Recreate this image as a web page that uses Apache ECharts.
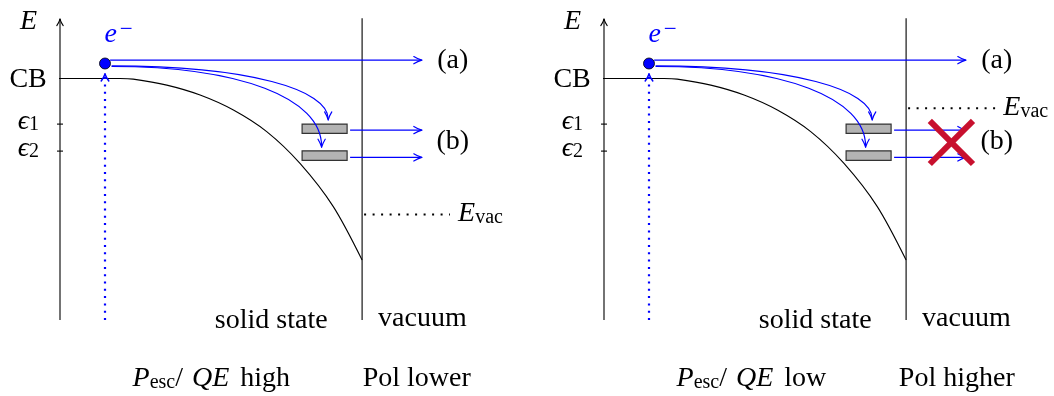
<!DOCTYPE html>
<html>
<head>
<meta charset="utf-8">
<title>Band bending, trap states and electron escape</title>
<script src="https://cdn.jsdelivr.net/npm/echarts@6/dist/echarts.min.js"></script>
<style>
html,body{margin:0;padding:0;background:#fff;}
#chart{width:1054px;height:396px;}
</style>
</head>
<body>
<div id="chart"></div>
<script>
// ---------- data (x: depth, E: energy; arbitrary units) ----------
const panelQE = ['high', 'low'];
const panelPol = ['lower', 'higher'];
const levelNames = ['CB', 'ϵ1', 'ϵ2'];
const levelE = [8.05, 6.53, 5.63];
const bandX = [-0.1, 2.0, 2.44, 3.56, 4.67, 5.78, 6.89, 8.0, 9.11, 10.07];
const bandE = [8.05, 8.05, 8.03, 7.83, 7.5, 7.0, 6.28, 5.22, 3.78, 2.0];
const axisTopE = 10.03;
const surfaceX = 10.07;
const surfaceTopE = 10.06;
const electronX = 1.5;
const electronE = 8.55;
const excitationTopE = 8.2;
const trapLeftX = 8.07;
const trapRightX = 9.57;
const trapTopE = [6.53, 5.64];
const trapBottomE = [6.22, 5.32];
const escapeStartX = [1.67, 9.67, 9.67];
const escapeEndX = [12.06, 12.06, 12.06];
const escapeE = [8.66, 6.33, 5.42];
const captureStartX = [1.72, 1.72];
const captureStartE = [8.47, 8.45];
const captureC1X = [6.33, 6.0];
const captureC1E = [8.47, 8.45];
const captureC2X = [8.94, 8.72];
const captureC2E = [7.67, 7.4];
const captureEndX = [8.94, 8.72];
const captureEndE = [6.67, 5.76];
const evacE = [3.52, 7.06];
const evacEndX = [13.0, 13.1];
const trapEscapeBlocked = [false, true];
const crossX = 11.58;
const crossE = 5.92;
const crossHalf = 0.72;

// ---------- styling ----------
const SERIF = '"Liberation Serif", "DejaVu Serif", serif';
const BLUE = '#0000FF';
const RED = '#C8102E';
const rich = {
  m:  {fontSize: 28, fontFamily: SERIF, lineHeight: 30, verticalAlign: 'bottom', fill: '#000'},
  i:  {fontSize: 28, fontFamily: SERIF, fontStyle: 'italic', lineHeight: 30, verticalAlign: 'bottom', fill: '#000'},
  s:  {fontSize: 20, fontFamily: SERIF, lineHeight: 17, verticalAlign: 'bottom', fill: '#000'},
  g1: {fontSize: 28, fontFamily: SERIF, lineHeight: 30, verticalAlign: 'bottom', width: 9},
  g2: {fontSize: 28, fontFamily: SERIF, lineHeight: 30, verticalAlign: 'bottom', width: 11},
  bi: {fontSize: 28, fontFamily: SERIF, fontStyle: 'italic', lineHeight: 30, verticalAlign: 'bottom', fill: BLUE},
  bsup: {fontSize: 23, fontFamily: SERIF, lineHeight: 9, verticalAlign: 'top', fill: BLUE, padding: [0, 0, 0, 3]}
};

function headEls(tip, from, color, len, half, lw) {
  const dx = tip[0] - from[0], dy = tip[1] - from[1];
  const d = Math.hypot(dx, dy) || 1;
  const ux = dx / d, uy = dy / d, nx = -uy, ny = ux;
  return [1, -1].map(s => ({
    type: 'bezierCurve',
    shape: {
      x1: tip[0] - ux * len + s * nx * half, y1: tip[1] - uy * len + s * ny * half,
      x2: tip[0], y2: tip[1],
      cpx1: tip[0] - ux * len * 0.5 + s * nx * half * 0.3, cpy1: tip[1] - uy * len * 0.5 + s * ny * half * 0.3
    },
    style: {stroke: color, fill: 'none', lineWidth: lw, lineCap: 'round'}
  }));
}

const grids = [], xAxes = [], yAxes = [], series = [];
[0, 1].forEach(p => {
  grids.push({left: p === 0 ? 60 : 604, top: 17, width: 450, height: 303});
  xAxes.push({type: 'value', gridIndex: p, min: 0, max: 15, show: false});
  yAxes.push({type: 'value', gridIndex: p, min: 0, max: 10.1, show: false});
  const ax = {xAxisIndex: p, yAxisIndex: p, silent: true, animation: false};

  // conduction band with band bending
  series.push(Object.assign({
    type: 'line', z: 2, symbol: 'none', smooth: 0.3,
    data: bandX.map((x, i) => [x, bandE[i]]),
    lineStyle: {color: '#000', width: 1.1}
  }, ax));

  // energy axis (with arrow) and surface
  series.push(Object.assign({
    type: 'custom', z: 3,
    data: [[0, 0, axisTopE, 1], [surfaceX, 0, surfaceTopE, 0]],
    renderItem: (params, api) => {
      const a = api.coord([api.value(0), api.value(1)]);
      const b = api.coord([api.value(0), api.value(2)]);
      const ch = [{type: 'line', shape: {x1: a[0], y1: a[1], x2: b[0], y2: b[1]}, style: {stroke: '#000', lineWidth: 1.1}}];
      if (api.value(3) === 1) ch.push(...headEls(b, a, '#000', 6.5, 3.2, 1.1));
      return {type: 'group', children: ch};
    }
  }, ax));

  // level ticks on energy axis
  series.push(Object.assign({
    type: 'custom', z: 3,
    data: levelE.slice(1).map(e => [0, e]),
    renderItem: (params, api) => {
      const c = api.coord([api.value(0), api.value(1)]);
      return {type: 'line', shape: {x1: c[0] - 3, y1: c[1], x2: c[0] + 3, y2: c[1]}, style: {stroke: '#000', lineWidth: 1.1}};
    }
  }, ax));

  // level labels
  series.push(Object.assign({
    type: 'custom', z: 10,
    data: levelE.map((e, i) => [i === 0 ? -0.44 : -0.7, e + (i === 0 ? 0 : 0.13)]),
    renderItem: (params, api) => {
      const c = api.coord([api.value(0), api.value(1)]);
      const n = levelNames[params.dataIndex];
      const txt = n.length > 1 && n[0] === 'ϵ' ? '{i|ϵ}{s|' + n.slice(1) + '}' : '{m|' + n + '}';
      return {type: 'text', x: c[0], y: c[1], style: {legacy: false, text: txt, rich: rich, align: 'right', verticalAlign: 'middle'}};
    }
  }, ax));

  // excitation (blue dotted arrow)
  series.push(Object.assign({
    type: 'custom', z: 4,
    data: [[electronX, 0, excitationTopE]],
    renderItem: (params, api) => {
      const a = api.coord([api.value(0), api.value(1)]);
      const b = api.coord([api.value(0), api.value(2)]);
      return {type: 'group', children: [
        {type: 'line', shape: {x1: a[0], y1: a[1], x2: b[0], y2: b[1] + 2}, style: {stroke: BLUE, lineWidth: 2.2, lineDash: [2, 5.3]}},
        ...headEls(b, a, BLUE, 7, 3.8, 1.5)
      ]};
    }
  }, ax));

  // vacuum level (black dotted)
  series.push(Object.assign({
    type: 'custom', z: 4,
    data: [[surfaceX, evacE[p], evacEndX[p]]],
    renderItem: (params, api) => {
      const a = api.coord([api.value(0), api.value(1)]);
      const b = api.coord([api.value(2), api.value(1)]);
      return {type: 'line', shape: {x1: a[0] + 2, y1: a[1], x2: b[0], y2: b[1]}, style: {stroke: '#000', lineWidth: 2, lineDash: [2, 6.5]}};
    }
  }, ax));

  // trap states
  series.push(Object.assign({
    type: 'custom', z: 5,
    data: trapTopE.map((t, i) => [trapLeftX, t, trapRightX, trapBottomE[i]]),
    renderItem: (params, api) => {
      const a = api.coord([api.value(0), api.value(1)]);
      const b = api.coord([api.value(2), api.value(3)]);
      return {type: 'rect', shape: {x: a[0], y: a[1], width: b[0] - a[0], height: b[1] - a[1]}, style: {fill: '#B3B3B3', stroke: '#333', lineWidth: 1.2}};
    }
  }, ax));

  // escape paths (straight blue arrows)
  series.push(Object.assign({
    type: 'custom', z: 6,
    data: escapeE.map((e, i) => [escapeStartX[i], e, escapeEndX[i], e]),
    renderItem: (params, api) => {
      const a = api.coord([api.value(0), api.value(1)]);
      const b = api.coord([api.value(2), api.value(3)]);
      return {type: 'group', children: [
        {type: 'line', shape: {x1: a[0], y1: a[1], x2: b[0] - 1, y2: b[1]}, style: {stroke: BLUE, lineWidth: 1.2}},
        ...headEls(b, a, BLUE, 8, 3.6, 1.2)
      ]};
    }
  }, ax));

  // capture paths into traps (curved blue arrows)
  series.push(Object.assign({
    type: 'custom', z: 6,
    data: captureStartX.map((x, i) => [x, captureStartE[i], captureC1X[i], captureC1E[i], captureC2X[i], captureC2E[i], captureEndX[i], captureEndE[i]]),
    renderItem: (params, api) => {
      const p0 = api.coord([api.value(0), api.value(1)]);
      const c1 = api.coord([api.value(2), api.value(3)]);
      const c2 = api.coord([api.value(4), api.value(5)]);
      const p3 = api.coord([api.value(6), api.value(7)]);
      return {type: 'group', children: [
        {type: 'bezierCurve', shape: {x1: p0[0], y1: p0[1], x2: p3[0], y2: p3[1] - 1, cpx1: c1[0], cpy1: c1[1], cpx2: c2[0], cpy2: c2[1]}, style: {stroke: BLUE, fill: 'none', lineWidth: 1.2}},
        ...headEls(p3, c2, BLUE, 8, 3.6, 1.2)
      ]};
    }
  }, ax));

  // electron
  series.push(Object.assign({
    type: 'scatter', z: 7, symbol: 'circle', symbolSize: 11,
    data: [[electronX, electronE]],
    itemStyle: {color: BLUE, borderColor: '#000', borderWidth: 0.8, opacity: 1}
  }, ax));

  // blocked escape (red cross)
  if (trapEscapeBlocked[p]) {
    series.push(Object.assign({
      type: 'custom', z: 8,
      data: [[crossX, crossE]],
      renderItem: (params, api) => {
        const x = api.value(0), e = api.value(1);
        const a = api.coord([x - crossHalf, e + crossHalf]), b = api.coord([x + crossHalf, e - crossHalf]);
        const c = api.coord([x - crossHalf, e - crossHalf]), d = api.coord([x + crossHalf, e + crossHalf]);
        const st = {stroke: RED, lineWidth: 6, lineCap: 'butt'};
        return {type: 'group', children: [
          {type: 'line', shape: {x1: a[0], y1: a[1], x2: b[0], y2: b[1]}, style: st},
          {type: 'line', shape: {x1: c[0], y1: c[1], x2: d[0], y2: d[1]}, style: st}
        ]};
      }
    }, ax));
  }

  // annotations
  const labels = [
    {x: -1.05, e: 9.97, text: '{i|E}', align: 'center'},
    {x: 1.48, e: 9.54, text: '{bi|e}{bsup|−}', align: 'left'},
    {x: 13.09, e: 8.69, text: '{m|(a)}', align: 'center'},
    {x: 13.09, e: 5.97, text: '{m|(b)}', align: 'center'},
    {x: p === 0 ? 13.27 : 13.31, e: evacE[p] + 0.05, text: '{i|E}{s|vac}', align: 'left'},
    {x: 7.04, e: 0.0, text: '{m|solid state}', align: 'center'},
    {x: 12.08, e: 0.08, text: '{m|vacuum}', align: 'center'},
    {x: 2.42, e: -1.91, text: '{i|P}{s|esc}{m|/}{g1| }{i|QE}{g2| }{m|' + panelQE[p] + '}', align: 'left'},
    {x: p === 0 ? 11.89 : 11.76, e: -1.91, text: '{m|Pol ' + panelPol[p] + '}', align: 'center'}
  ];
  series.push(Object.assign({
    type: 'custom', z: 10,
    data: labels.map(l => [l.x, l.e]),
    renderItem: (params, api) => {
      const l = labels[params.dataIndex];
      const c = api.coord([api.value(0), api.value(1)]);
      return {type: 'text', x: c[0], y: c[1], style: {legacy: false, text: l.text, rich: rich, align: l.align, verticalAlign: 'middle'}};
    }
  }, ax));
});

const chart = echarts.init(document.getElementById('chart'), null, {renderer: 'canvas'});
chart.setOption({
  animation: false,
  backgroundColor: '#fff',
  grid: grids,
  xAxis: xAxes,
  yAxis: yAxes,
  series: series
});
</script>
</body>
</html>
